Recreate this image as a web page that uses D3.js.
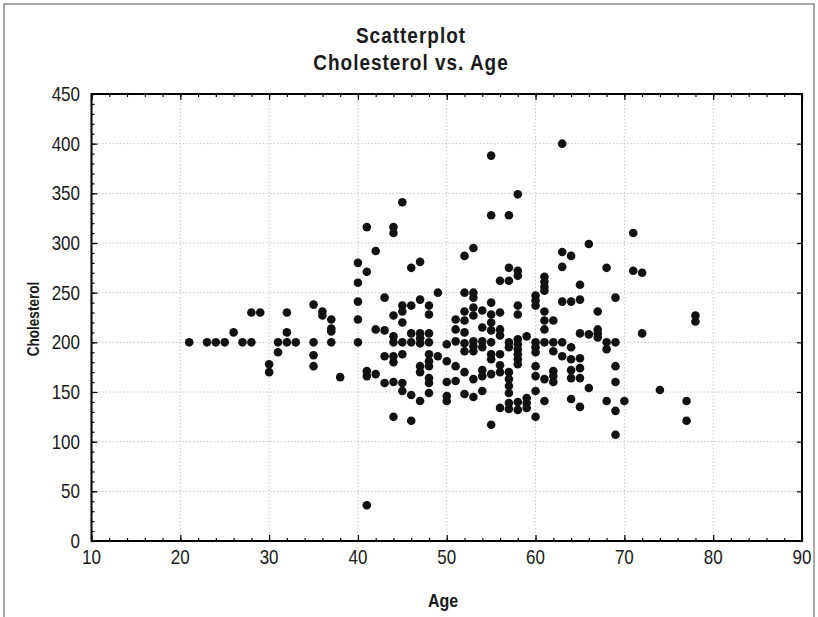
<!DOCTYPE html>
<html>
<head>
<meta charset="utf-8">
<script src="https://cdn.jsdelivr.net/npm/d3@7"></script>
<style>
  html, body { margin: 0; padding: 0; background: #fff; }
  svg { display: block; }
  text { font-family: "Liberation Sans", Arial, sans-serif; fill: #1a1a1a; }
</style>
</head>
<body>
<div id="chart"></div>
<script>
// ---- data ----
const titleLines = ["Scatterplot", "Cholesterol vs. Age"];
const xLabel = "Age";
const yLabel = "Cholesterol";
const xTicks = [10, 20, 30, 40, 50, 60, 70, 80, 90];
const yTicks = [0, 50, 100, 150, 200, 250, 300, 350, 400, 450];

const ages = [
  21,
  23,
  24,
  25,
  26,
  27,
  28, 28,
  29,
  30, 30,
  31, 31,
  32, 32, 32,
  33,
  35, 35, 35, 35,
  36, 36,
  37, 37, 37, 37,
  38,
  40, 40, 40, 40, 40,
  41, 41, 41, 41, 41,
  42, 42, 42,
  43, 43, 43, 43,
  44, 44, 44, 44, 44, 44, 44, 44, 44,
  45, 45, 45, 45, 45, 45, 45, 45,
  46, 46, 46, 46, 46, 46,
  47, 47, 47, 47, 47, 47, 47, 47,
  48, 48, 48, 48, 48, 48, 48, 48, 48, 48,
  49, 49,
  50, 50, 50, 50, 50,
  51, 51, 51, 51, 51,
  52, 52, 52, 52, 52, 52, 52, 52, 52,
  53, 53, 53, 53, 53, 53, 53, 53, 53, 53,
  54, 54, 54, 54, 54, 54, 54,
  55, 55, 55, 55, 55, 55, 55, 55, 55, 55, 55,
  56, 56, 56, 56, 56, 56, 56, 56,
  57, 57, 57, 57, 57, 57, 57, 57, 57, 57, 57,
  58, 58, 58, 58, 58, 58, 58, 58, 58, 58, 58, 58, 58,
  59, 59, 59, 59,
  60, 60, 60, 60, 60, 60, 60, 60, 60, 60,
  61, 61, 61, 61, 61, 61, 61, 61, 61, 61,
  62, 62, 62, 62, 62, 62,
  63, 63, 63, 63, 63, 63,
  64, 64, 64, 64, 64, 64, 64,
  65, 65, 65, 65, 65, 65, 65,
  66, 66, 66,
  67, 67, 67, 67,
  68, 68, 68, 68,
  69, 69, 69, 69, 69, 69,
  70,
  71, 71,
  72, 72,
  74,
  77, 77,
  78, 78
];

const cholesterol = [
  200,
  200,
  200,
  200,
  210,
  200,
  230, 200,
  230,
  178, 170,
  200, 190,
  230, 210, 200,
  200,
  238, 200, 187, 176,
  231, 227,
  223, 214, 211, 200,
  165,
  280, 260, 241, 223, 200,
  316, 271, 171, 166, 36,
  292, 213, 168,
  245, 212, 186, 159,
  316, 310, 227, 206, 200, 186, 180, 160, 125,
  341, 237, 231, 220, 200, 188, 159, 151,
  275, 237, 209, 200, 147, 121,
  281, 243, 209, 204, 199, 176, 170, 141,
  237, 228, 209, 200, 188, 181, 176, 164, 159, 149,
  250, 186,
  198, 181, 160, 146, 141,
  223, 213, 201, 176, 161,
  287, 250, 231, 222, 210, 199, 191, 170, 148,
  295, 250, 245, 235, 227, 201, 196, 191, 163, 145,
  232, 215, 201, 195, 172, 166, 151,
  388, 328, 240, 228, 220, 212, 200, 188, 183, 168, 117,
  262, 230, 213, 207, 188, 177, 170, 134,
  328, 275, 262, 200, 195, 170, 163, 156, 149, 139, 133,
  349, 272, 267, 237, 228, 203, 198, 193, 188, 183, 178, 140, 132,
  206, 144, 139, 134,
  247, 242, 237, 200, 195, 190, 176, 166, 151, 125,
  266, 261, 256, 252, 231, 222, 213, 200, 163, 141,
  222, 200, 191, 171, 166, 160,
  400, 291, 276, 241, 200, 186,
  287, 241, 195, 183, 172, 164, 143,
  258, 243, 209, 184, 174, 164, 135,
  299, 208, 154,
  231, 213, 209, 205,
  275, 200, 193, 141,
  245, 200, 176, 160, 131, 107,
  141,
  310, 272,
  270, 209,
  152,
  141, 121,
  227, 221
];

// ---- layout ----
const W = 818, H = 617;
const plot = { left: 91.5, right: 802, top: 94, bottom: 541 };
const TALL = 1.2; // vertical stretch of the lettering in the reference

const svg = d3.select("#chart").append("svg")
  .attr("width", W).attr("height", H);

// outer frame
svg.append("rect")
  .attr("x", 4).attr("y", 4).attr("width", 810).attr("height", 640)
  .attr("fill", "none").attr("stroke", "#8a8a8a").attr("stroke-width", 1.5);

const x = d3.scaleLinear().domain([10, 90]).range([plot.left, plot.right]);
const y = d3.scaleLinear().domain([0, 450]).range([plot.bottom, plot.top]);

// grid
const grid = svg.append("g").attr("stroke", "#c4c4c4").attr("stroke-width", 1)
  .attr("stroke-dasharray", "1.5,2");
grid.selectAll(".gx").data(xTicks.slice(1, -1)).join("line")
  .attr("x1", d => x(d)).attr("x2", d => x(d))
  .attr("y1", plot.top).attr("y2", plot.bottom);
grid.selectAll(".gy").data(yTicks.slice(1, -1)).join("line")
  .attr("y1", d => y(d)).attr("y2", d => y(d))
  .attr("x1", plot.left).attr("x2", plot.right);

// axes with inward ticks
const xMinor = d3.range(10, 90.01, 2);
const yMinor = d3.range(0, 450.01, 10);

function tickOnly(axisGen, g) {
  g.call(axisGen);
  g.select(".domain").remove();
  g.selectAll("text").remove();
  g.selectAll("line").attr("stroke", "#000").attr("stroke-width", 1.2);
}

const gBottomMinor = svg.append("g").attr("transform", `translate(0,${plot.bottom})`);
tickOnly(d3.axisTop(x).tickValues(xMinor).tickSize(3), gBottomMinor);
const gBottom = svg.append("g").attr("transform", `translate(0,${plot.bottom})`);
tickOnly(d3.axisTop(x).tickValues(xTicks).tickSize(6), gBottom);

const gTopMinor = svg.append("g").attr("transform", `translate(0,${plot.top})`);
tickOnly(d3.axisBottom(x).tickValues(xMinor).tickSize(3), gTopMinor);
const gTop = svg.append("g").attr("transform", `translate(0,${plot.top})`);
tickOnly(d3.axisBottom(x).tickValues(xTicks).tickSize(6), gTop);

const gLeftMinor = svg.append("g").attr("transform", `translate(${plot.left},0)`);
tickOnly(d3.axisRight(y).tickValues(yMinor).tickSize(3), gLeftMinor);
const gLeft = svg.append("g").attr("transform", `translate(${plot.left},0)`);
tickOnly(d3.axisRight(y).tickValues(yTicks).tickSize(6), gLeft);

const gRight = svg.append("g").attr("transform", `translate(${plot.right},0)`);
tickOnly(d3.axisLeft(y).tickValues(yTicks).tickSize(5), gRight);

// frame
svg.append("rect")
  .attr("x", plot.left).attr("y", plot.top)
  .attr("width", plot.right - plot.left).attr("height", plot.bottom - plot.top)
  .attr("fill", "none").attr("stroke", "#000").attr("stroke-width", 2);

// tick labels
svg.append("g").selectAll("text").data(xTicks).join("text")
  .attr("transform", d => `translate(${x(d)},564) scale(1,${TALL})`)
  .attr("text-anchor", "middle").attr("font-size", 17)
  .text(d => d);
svg.append("g").selectAll("text").data(yTicks).join("text")
  .attr("transform", d => `translate(80,${y(d) + 7}) scale(1,${TALL})`)
  .attr("text-anchor", "end").attr("font-size", 17)
  .text(d => d);

// points
svg.append("g").selectAll("circle")
  .data(ages.map((a, i) => ({ age: a, chol: cholesterol[i] })))
  .join("circle")
  .attr("cx", d => x(d.age)).attr("cy", d => y(d.chol))
  .attr("r", 4.3).attr("fill", "#111");

// titles
svg.append("g").selectAll("text").data(titleLines).join("text")
  .attr("transform", (d, i) => `translate(411,${43 + i * 27}) scale(1,${TALL})`)
  .attr("text-anchor", "middle").attr("font-size", 19)
  .attr("font-weight", "bold").attr("letter-spacing", 1)
  .text(d => d);

svg.append("text")
  .attr("transform", `translate(443,607) scale(1,${TALL})`)
  .attr("text-anchor", "middle").attr("font-size", 16)
  .attr("font-weight", "bold")
  .text(xLabel);

svg.append("text")
  .attr("transform", `translate(39,319) rotate(-90) scale(0.85,1)`)
  .attr("text-anchor", "middle").attr("font-size", 16)
  .attr("font-weight", "bold")
  .text(yLabel);
</script>
</body>
</html>
